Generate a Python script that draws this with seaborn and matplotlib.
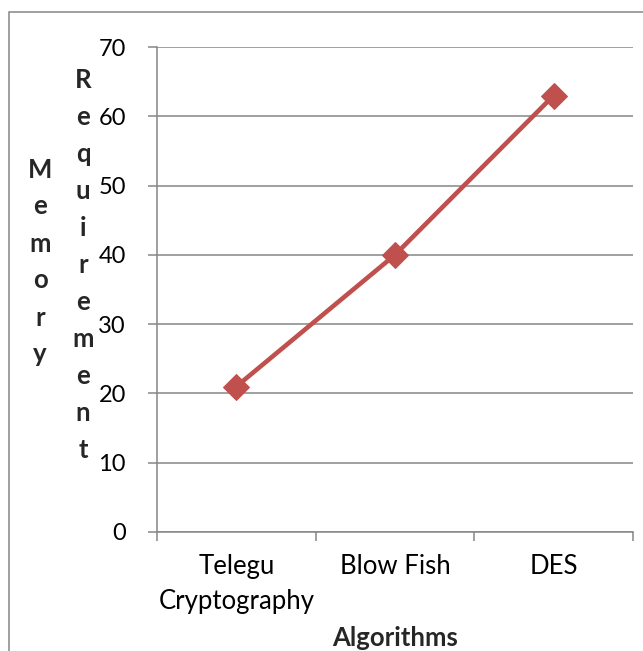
import matplotlib
matplotlib.use("Agg")
import matplotlib.pyplot as plt
import seaborn as sns
import pandas as pd
from matplotlib.patches import Rectangle
from matplotlib.ticker import FixedLocator, NullFormatter

categories = ["Telegu\nCryptography", "Blow Fish", "DES"]
memory = [21, 40, 63]
y_ticks = [0, 10, 20, 30, 40, 50, 60, 70]

sns.set_theme(style="white")
plt.rcParams['font.family'] = ['Lato', 'DejaVu Sans']

df = pd.DataFrame({"Algorithm": categories, "Memory": memory})

fig = plt.figure(figsize=(6.43, 6.51), dpi=100)
ax = fig.add_axes([157/643, 1-532/651, (633-157)/643, (532-47)/651])

line_color = "#C0504D"
grid_color = "#868686"
fs = 18.5

sns.lineplot(data=df, x="Algorithm", y="Memory", ax=ax, color=line_color,
             linewidth=3.3, marker="D", markersize=13, markeredgecolor=line_color,
             markerfacecolor=line_color, sort=False)

ax.set_xlim(-0.5, 2.5)
ax.set_ylim(0, 70)
ax.set_yticks(y_ticks)
ax.set_yticklabels([str(t) for t in y_ticks], fontsize=17, color="black")
ax.yaxis.grid(True, color=grid_color, linewidth=1.1)
ax.xaxis.grid(False)

ax.xaxis.set_major_locator(FixedLocator([-0.5, 0.5, 1.5, 2.5]))
ax.xaxis.set_major_formatter(NullFormatter())
ax.xaxis.set_minor_locator(FixedLocator([0, 1, 2]))
ax.set_xticklabels(categories, minor=True, fontsize=fs, color="black", linespacing=1.5)
ax.tick_params(axis="x", which="major", length=6.5, width=1.1, color=grid_color, direction="out", bottom=True)
ax.tick_params(axis="x", which="minor", length=0, pad=16)
ax.tick_params(axis="y", length=6.5, width=1.1, color=grid_color, direction="out", left=True, pad=16)

for side in ["top", "right"]:
    ax.spines[side].set_visible(False)
for side in ["left", "bottom"]:
    ax.spines[side].set_color(grid_color)
    ax.spines[side].set_linewidth(1.1)

ax.set_xlabel("")
ax.set_ylabel("")

fig.text(395/643, 1-638/651, "Algorithms", ha="center", va="center",
         fontsize=fs, fontweight="bold")
fig.text(40/643, 1-262/651, "\n".join("Memory"), ha="center", va="center",
         fontsize=fs, fontweight="bold", linespacing=1.65)
fig.text(83/643, 1-265/651, "\n".join("Requirement"), ha="center", va="center",
         fontsize=fs, fontweight="bold", linespacing=1.65)

fig.patches.append(Rectangle((9/643, -0.05), 1.2, 1-12/651+0.05, transform=fig.transFigure,
                             fill=False, edgecolor=grid_color, linewidth=1.1))

fig.savefig("out.png", dpi=100, facecolor="white")
